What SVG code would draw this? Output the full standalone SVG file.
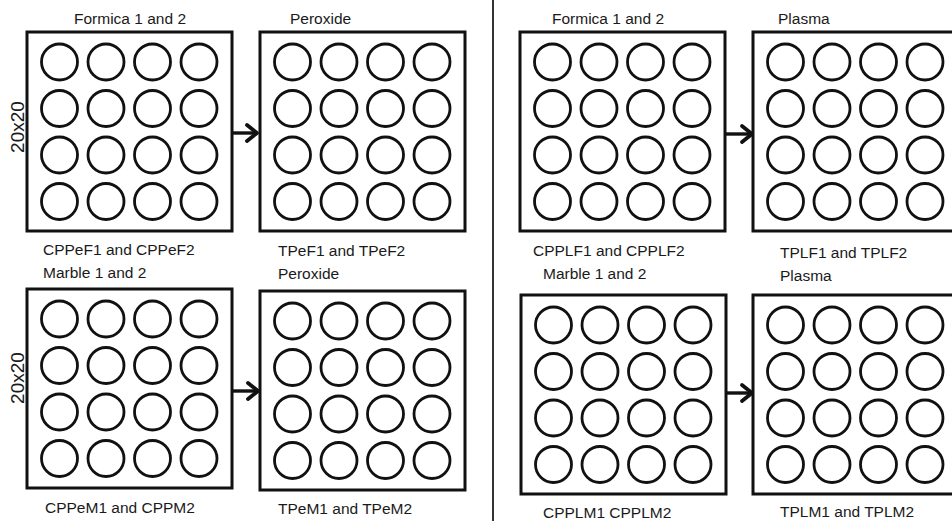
<svg xmlns="http://www.w3.org/2000/svg" xmlns:xlink="http://www.w3.org/1999/xlink" width="952" height="521" viewBox="0 0 952 521">
<style>
.lbl{font-family:"Liberation Sans",Arial,sans-serif;font-size:15.5px;fill:#1a1a1a}
.dim{font-family:"Liberation Sans",Arial,sans-serif;font-size:19px;fill:#1a1a1a}
.box{fill:#fff;stroke:#111;stroke-width:3}
.well{fill:none;stroke:#111;stroke-width:2.8}
.conn{fill:none;stroke:#111;stroke-width:3.4}
.div{stroke:#333;stroke-width:2}
</style>
<defs>
<marker id="ah" markerWidth="16" markerHeight="22" refX="13" refY="11" orient="auto" markerUnits="userSpaceOnUse">
<path d="M3,3 L13,11 L3,19" fill="none" stroke="#111" stroke-width="3.8" stroke-linecap="round" stroke-linejoin="round"/>
</marker>
<g id="plate">
<rect class="box" x="0" y="0" width="205" height="199"/>
<g class="well">
<circle cx="32.5" cy="30" r="18"/><circle cx="79" cy="30" r="18"/><circle cx="125.5" cy="30" r="18"/><circle cx="172" cy="30" r="18"/>
<circle cx="32.5" cy="76.5" r="18"/><circle cx="79" cy="76.5" r="18"/><circle cx="125.5" cy="76.5" r="18"/><circle cx="172" cy="76.5" r="18"/>
<circle cx="32.5" cy="123" r="18"/><circle cx="79" cy="123" r="18"/><circle cx="125.5" cy="123" r="18"/><circle cx="172" cy="123" r="18"/>
<circle cx="32.5" cy="169.5" r="18"/><circle cx="79" cy="169.5" r="18"/><circle cx="125.5" cy="169.5" r="18"/><circle cx="172" cy="169.5" r="18"/>
</g>
</g>
</defs>
<rect width="952" height="521" fill="#fff"/>
<line class="div" x1="493" y1="0" x2="493" y2="521"/>

<g id="cppef">
<use xlink:href="#plate" href="#plate" transform="translate(27,32)"/>
<text class="lbl" x="74" y="24">Formica 1 and 2</text>
<text class="lbl" x="43" y="255">CPPeF1 and CPPeF2</text>
<text class="dim" transform="translate(24,127) rotate(-90)" text-anchor="middle">20x20</text>
</g>
<g id="tpef">
<use xlink:href="#plate" href="#plate" transform="translate(260,32)"/>
<text class="lbl" x="290" y="24">Peroxide</text>
<text class="lbl" x="278" y="256">TPeF1 and TPeF2</text>
</g>
<g id="cpplf">
<use xlink:href="#plate" href="#plate" transform="translate(520,32)"/>
<text class="lbl" x="552" y="24">Formica 1 and 2</text>
<text class="lbl" x="533" y="256">CPPLF1 and CPPLF2</text>
</g>
<g id="tplf">
<use xlink:href="#plate" href="#plate" transform="translate(753,32)"/>
<text class="lbl" x="778" y="24">Plasma</text>
<text class="lbl" x="780" y="258">TPLF1 and TPLF2</text>
</g>

<g id="cppem">
<use xlink:href="#plate" href="#plate" transform="translate(27,289)"/>
<text class="lbl" x="43" y="278">Marble 1 and 2</text>
<text class="lbl" x="45" y="513">CPPeM1 and CPPM2</text>
<text class="dim" transform="translate(24,378) rotate(-90)" text-anchor="middle">20x20</text>
</g>
<g id="tpem">
<use xlink:href="#plate" href="#plate" transform="translate(260,291)"/>
<text class="lbl" x="278" y="279">Peroxide</text>
<text class="lbl" x="278" y="514">TPeM1 and TPeM2</text>
</g>
<g id="cpplm">
<use xlink:href="#plate" href="#plate" transform="translate(521,295)"/>
<text class="lbl" x="543" y="279">Marble 1 and 2</text>
<text class="lbl" x="543" y="518">CPPLM1 CPPLM2</text>
</g>
<g id="tplm">
<use xlink:href="#plate" href="#plate" transform="translate(753,295)"/>
<text class="lbl" x="780" y="281">Plasma</text>
<text class="lbl" x="780" y="517">TPLM1 and TPLM2</text>
</g>

<g id="connectors">
<line class="conn" x1="232" y1="133" x2="257" y2="133" marker-end="url(#ah)"/>
<line class="conn" x1="725" y1="134" x2="752" y2="134" marker-end="url(#ah)"/>
<line class="conn" x1="232" y1="391" x2="258" y2="391" marker-end="url(#ah)"/>
<line class="conn" x1="726" y1="393" x2="752" y2="393" marker-end="url(#ah)"/>
</g>
</svg>
